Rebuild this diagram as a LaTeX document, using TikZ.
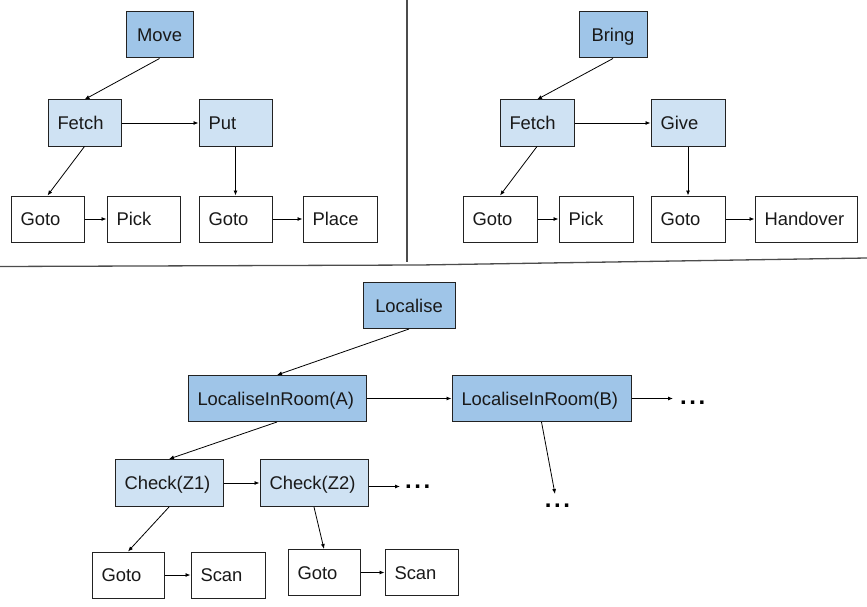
\documentclass[tikz,border=0pt]{standalone}
\usepackage{fontspec}
\setmainfont{Liberation Sans}
\usetikzlibrary{arrows.meta}
\definecolor{dblue}{HTML}{9FC5E8}
\definecolor{lblue}{HTML}{CFE2F3}
\definecolor{edge}{HTML}{222222}
\newcommand{\mydots}{.\kern2.6pt.\kern2.6pt.}
\begin{document}
\begin{tikzpicture}[x=1pt,y=-1pt,
  box/.style={draw=edge, line width=1pt, rectangle, inner xsep=9.5pt, inner ysep=0pt,
    minimum height=46pt, align=left, text height=13.2pt, text depth=0pt,
    font=\fontsize{18.4}{20}\selectfont, text=black!90},
  dk/.style={box, fill=dblue},
  lt/.style={box, fill=lblue},
  wt/.style={box, fill=white},
  arr/.style={draw=black, line width=0.8pt, -{Latex[length=5pt,width=4pt]}},
  dots/.style={font=\fontsize{24}{26}\selectfont\bfseries, inner sep=0pt},
  sep/.style={draw=black!70, line width=1.3pt}
]
\useasboundingbox (0,0) rectangle (867,607);
% separators
\draw[sep] (407,0) -- (407,262);
\draw[sep] (0,266.5) -- (420,265) -- (867,258);

% ---- Move
\node[dk, text width=48pt, align=center] (move) at (159.5,35) {Move};
\node[lt, text width=54pt] (fetchA) at (84.5,123) {Fetch};
\node[lt, text width=54pt] (put) at (235.5,123) {Put};
\node[wt, text width=54pt] (gotoA) at (47.5,219) {Goto};
\node[wt, text width=54pt] (pickA) at (143.5,219) {Pick};
\node[wt, text width=54pt] (gotoB) at (235.5,219) {Goto};
\node[wt, text width=55pt] (place) at (340,219) {Place};
\draw[arr] (move.south) -- (fetchA.north);
\draw[arr] (fetchA.east) -- (put.west);
\draw[arr] (fetchA.south) -- (gotoA.north);
\draw[arr] (put.south) -- (gotoB.north);
\draw[arr] (gotoA.east) -- (pickA.west);
\draw[arr] (gotoB.east) -- (place.west);

% ---- Bring
\node[dk, text width=49pt, align=center] (bring) at (613,35) {Bring};
\node[lt, text width=55pt] (fetchB) at (537,123) {Fetch};
\node[lt, text width=55pt] (give) at (688,123) {Give};
\node[wt, text width=55pt] (gotoC) at (500,219) {Goto};
\node[wt, text width=55pt] (pickB) at (596,219) {Pick};
\node[wt, text width=55pt] (gotoD) at (688,219) {Goto};
\node[wt, text width=83pt] (handover) at (806,219) {Handover};
\draw[arr] (bring.south) -- (fetchB.north);
\draw[arr] (fetchB.east) -- (give.west);
\draw[arr] (fetchB.south) -- (gotoC.north);
\draw[arr] (give.south) -- (gotoD.north);
\draw[arr] (gotoC.east) -- (pickB.west);
\draw[arr] (gotoD.east) -- (handover.west);

% ---- Localise
\node[dk, text width=73pt, align=center] (loc) at (409,305.5) {Localise};
\node[dk, text width=159pt] (lirA) at (277,398.5) {LocaliseInRoom(A)};
\node[dk, text width=160pt] (lirB) at (541.5,398.5) {LocaliseInRoom(B)};
\coordinate (rB) at (673,398.5);
\node[dots, anchor=west] (dotsR) at (680,403) {\mydots};
\coordinate (dB) at (555,494);
\node[dots] (dotsD) at (557.5,506) {\mydots};
\draw[arr] (loc.south) -- (lirA.north);
\draw[arr] (lirA.east) -- (lirB.west);
\draw[arr] (lirB.east) -- (rB);
\draw[arr] (lirB.south) -- (dB);

\node[lt, text width=89pt, minimum height=47pt] (chk1) at (169,483) {Check(Z1)};
\node[lt, text width=89pt, minimum height=47pt] (chk2) at (314,483) {Check(Z2)};
\coordinate (r2) at (400,486.5);
\node[dots, anchor=west] (dotsC) at (405,487) {\mydots};
\draw[arr] (lirA.south) -- (chk1.north);
\draw[arr] (chk1.east) -- (chk2.west);
\draw[arr] (chk2.east) ++(0,3.5) -- (r2);

\node[wt, text width=53pt] (gotoE) at (128,575) {Goto};
\node[wt, text width=55pt] (scanA) at (228,575) {Scan};
\node[wt, text width=53pt] (gotoF) at (324,572.5) {Goto};
\node[wt, text width=54pt] (scanB) at (421.5,572.5) {Scan};
\draw[arr] (chk1.south) -- (gotoE.north);
\draw[arr] (chk2.south) -- (gotoF.north);
\draw[arr] (gotoE.east) -- (scanA.west);
\draw[arr] (gotoF.east) -- (scanB.west);
\end{tikzpicture}
\end{document}
